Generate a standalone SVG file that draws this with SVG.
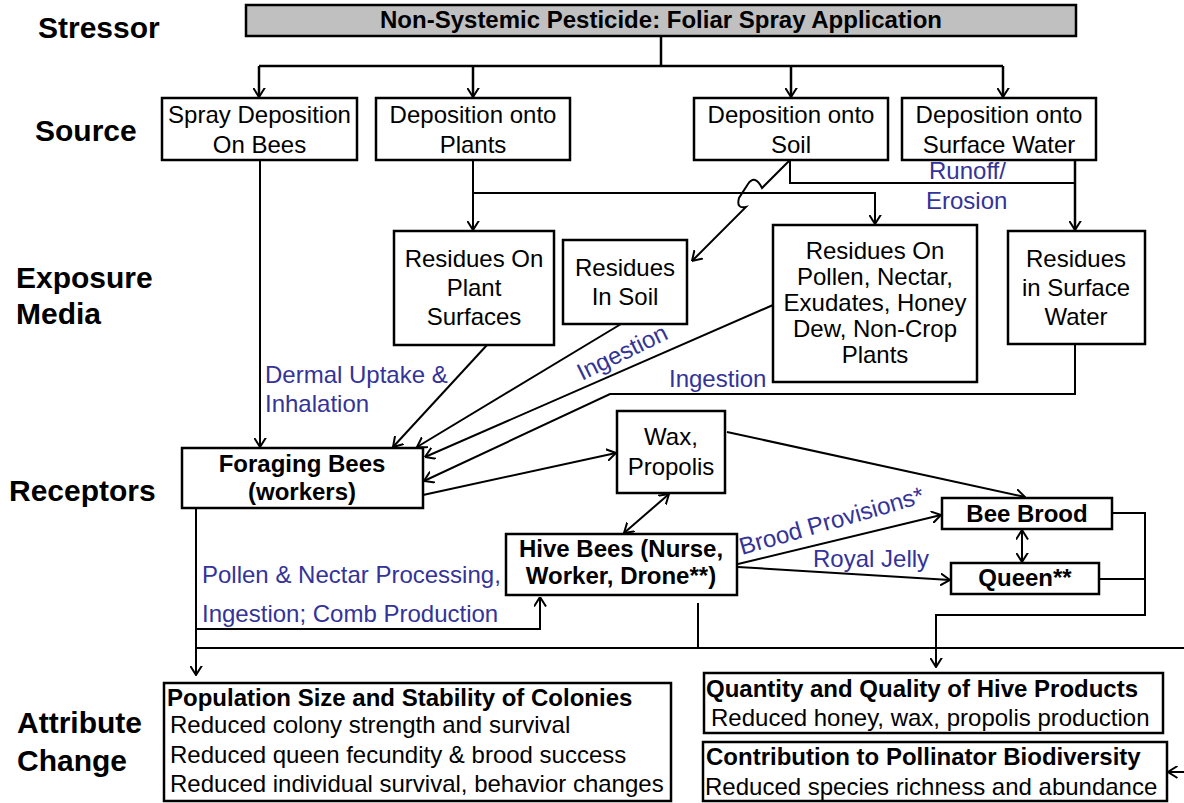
<svg xmlns="http://www.w3.org/2000/svg" width="1184" height="803" viewBox="0 0 1184 803">
  <style>
    text { font-family: "Liberation Sans", Arial, sans-serif; font-size: 24px; fill: #000; }
    .b { font-weight: bold; }
    .lvl { font-weight: bold; font-size: 30px; }
    .lbl { fill: #333399; }
    .c { text-anchor: middle; }
    .box { fill: #fff; stroke: #000; stroke-width: 2.5; }
    .ln { fill: none; stroke: #000; stroke-width: 2; }
    .thk { stroke-width: 2.5; }
  </style>
  <defs>
    <marker id="ah" viewBox="0 0 10 13" refX="9.5" refY="6.5" markerWidth="10" markerHeight="13" markerUnits="userSpaceOnUse" orient="auto-start-reverse">
      <path d="M0,0.5 L9.5,6.5 L0,12.5" fill="none" stroke="#000" stroke-width="2"/>
    </marker>
  </defs>
  <rect width="1184" height="803" fill="#fff"/>

  <!-- level labels -->
  <g id="levels">
    <text class="lvl" x="38" y="38">Stressor</text>
    <text class="lvl" x="35" y="141">Source</text>
    <text class="lvl" x="16" y="288">Exposure</text>
    <text class="lvl" x="16" y="324">Media</text>
    <text class="lvl" x="9" y="501">Receptors</text>
    <text class="lvl" x="17" y="733">Attribute</text>
    <text class="lvl" x="17" y="771">Change</text>
  </g>

  <!-- connectors -->
  <g id="connectors">
    <path class="ln thk" d="M661,36 V66 M259,66 H1003"/>
    <path class="ln thk" d="M259,66 V97" marker-end="url(#ah)"/>
    <path class="ln thk" d="M473,66 V97" marker-end="url(#ah)"/>
    <path class="ln thk" d="M791,66 V97" marker-end="url(#ah)"/>
    <path class="ln thk" d="M1003,66 V97" marker-end="url(#ah)"/>

    <!-- source to exposure media -->
    <path class="ln" d="M473,160 V230" marker-end="url(#ah)"/>
    <path class="ln" d="M473,193 H875 V224" marker-end="url(#ah)"/>
    <path class="ln" d="M790,160 V183 H1075"/>
    <path class="ln thk" d="M1075,158 V230" marker-end="url(#ah)"/>
    <path class="ln" d="M790,160 L762,188 Q755,174 748,184 L739,198 Q736,209 746,207 L692,261" marker-end="url(#ah)"/>

    <!-- exposure media to foraging bees -->
    <path class="ln" d="M260,160 V447" marker-end="url(#ah)"/>
    <path class="ln" d="M487,345 L393,447" marker-end="url(#ah)"/>
    <path class="ln" d="M621,324 L417,447" marker-end="url(#ah)"/>
    <path class="ln" d="M773,305 L425,457" marker-end="url(#ah)"/>
    <path class="ln" d="M1075,344 V394 H610 L424,481" marker-end="url(#ah)"/>

    <!-- receptors -->
    <path class="ln" d="M423,495 L616,453" marker-end="url(#ah)"/>
    <path class="ln" d="M669,494 L624,533" marker-start="url(#ah)" marker-end="url(#ah)"/>
    <path class="ln" d="M727,432 L1025,497" marker-end="url(#ah)"/>
    <path class="ln" d="M738,564 L941,515" marker-end="url(#ah)"/>
    <path class="ln" d="M738,567 L950,580" marker-end="url(#ah)"/>
    <path class="ln" d="M1022,530 V562" marker-start="url(#ah)" marker-end="url(#ah)"/>

    <!-- receptors to attribute change -->
    <path class="ln" d="M1112,513 H1145 V615 H936 V667" marker-end="url(#ah)"/>
    <path class="ln" d="M1099,579 H1145"/>
    <path class="ln" d="M698,603 V648"/>
    <path class="ln" d="M196,648 H1184"/>
    <path class="ln" d="M196,508 V675" marker-end="url(#ah)"/>
    <path class="ln" d="M196,629 H540 V597" marker-end="url(#ah)"/>
    <path class="ln" d="M1184,772 H1168" marker-end="url(#ah)"/>
  </g>

  <!-- connector labels -->
  <g id="labels">
    <text class="lbl" x="929" y="179">Runoff/</text>
    <text class="lbl" x="926" y="209">Erosion</text>
    <text class="lbl" x="265" y="383">Dermal Uptake &amp;</text>
    <text class="lbl" x="265" y="412">Inhalation</text>
    <text class="lbl" transform="translate(582,381) rotate(-26)">Ingestion</text>
    <text class="lbl" x="669" y="387">Ingestion</text>
    <text class="lbl" transform="translate(742,555) rotate(-16)">Brood Provisions*</text>
    <text class="lbl" x="813" y="567">Royal Jelly</text>
    <text class="lbl" x="202" y="583">Pollen &amp; Nectar Processing,</text>
    <text class="lbl" x="202" y="622">Ingestion; Comb Production</text>
  </g>

  <g id="stressor">
    <rect x="246" y="5" width="830" height="31" fill="#c0c0c0" stroke="#000" stroke-width="2.5"/>
    <text class="b c" x="661" y="28">Non-Systemic Pesticide: Foliar Spray Application</text>
  </g>

  <g id="src-bees">
    <rect class="box" x="162" y="98" width="195" height="62"/>
    <text class="c" x="259.5" y="123">Spray Deposition</text>
    <text class="c" x="259.5" y="153">On Bees</text>
  </g>
  <g id="src-plants">
    <rect class="box" x="376" y="98" width="194" height="62"/>
    <text class="c" x="473" y="123">Deposition onto</text>
    <text class="c" x="473" y="153">Plants</text>
  </g>
  <g id="src-soil">
    <rect class="box" x="694" y="98" width="194" height="62"/>
    <text class="c" x="791" y="123">Deposition onto</text>
    <text class="c" x="791" y="153">Soil</text>
  </g>
  <g id="src-water">
    <rect class="box" x="902" y="98" width="194" height="62"/>
    <text class="c" x="999" y="123">Deposition onto</text>
    <text class="c" x="999" y="153">Surface Water</text>
  </g>

  <g id="res-plant">
    <rect class="box" x="394" y="231" width="160" height="114"/>
    <text class="c" x="474" y="267">Residues On</text>
    <text class="c" x="474" y="296">Plant</text>
    <text class="c" x="474" y="325">Surfaces</text>
  </g>
  <g id="res-soil">
    <rect class="box" x="563" y="240" width="124" height="84"/>
    <text class="c" x="625" y="276">Residues</text>
    <text class="c" x="625" y="305">In Soil</text>
  </g>
  <g id="res-pollen">
    <rect class="box" x="773" y="225" width="204" height="157"/>
    <text class="c" x="875" y="259">Residues On</text>
    <text class="c" x="875" y="285">Pollen, Nectar,</text>
    <text class="c" x="875" y="311">Exudates, Honey</text>
    <text class="c" x="875" y="337">Dew, Non-Crop</text>
    <text class="c" x="875" y="363">Plants</text>
  </g>
  <g id="res-water">
    <rect class="box" x="1008" y="231" width="137" height="113"/>
    <text class="c" x="1076" y="267">Residues</text>
    <text class="c" x="1076" y="296">in Surface</text>
    <text class="c" x="1076" y="325">Water</text>
  </g>

  <g id="foraging">
    <rect class="box" x="182" y="448" width="241" height="60"/>
    <text class="b c" x="302" y="472">Foraging Bees</text>
    <text class="b c" x="302" y="500">(workers)</text>
  </g>
  <g id="wax">
    <rect class="box" x="617" y="411" width="108" height="82"/>
    <text class="c" x="671" y="445">Wax,</text>
    <text class="c" x="671" y="475">Propolis</text>
  </g>
  <g id="hive">
    <rect class="box" x="506" y="534" width="231" height="61"/>
    <text class="b c" x="621" y="557">Hive Bees (Nurse,</text>
    <text class="b c" x="621" y="584">Worker, Drone**)</text>
  </g>
  <g id="brood">
    <rect class="box" x="942" y="498" width="170" height="31"/>
    <text class="b c" x="1027" y="522">Bee Brood</text>
  </g>
  <g id="queen">
    <rect class="box" x="951" y="563" width="148" height="31"/>
    <text class="b c" x="1025" y="586">Queen**</text>
  </g>

  <g id="population">
    <rect class="box" x="164" y="683" width="507" height="118"/>
    <text class="b" x="167" y="706">Population Size and Stability of Colonies</text>
    <text x="170" y="733">Reduced colony strength and survival</text>
    <text x="170" y="763">Reduced queen fecundity &amp; brood success</text>
    <text x="170" y="792">Reduced individual survival, behavior changes</text>
  </g>
  <g id="products">
    <rect class="box" x="704" y="673" width="459" height="60"/>
    <text class="b" x="706" y="697">Quantity and Quality of Hive Products</text>
    <text x="711" y="726">Reduced honey, wax, propolis production</text>
  </g>
  <g id="biodiversity">
    <rect class="box" x="703" y="742" width="464" height="59"/>
    <text class="b" x="706" y="765">Contribution to Pollinator Biodiversity</text>
    <text x="705" y="795">Reduced species richness and abundance</text>
  </g>
</svg>
